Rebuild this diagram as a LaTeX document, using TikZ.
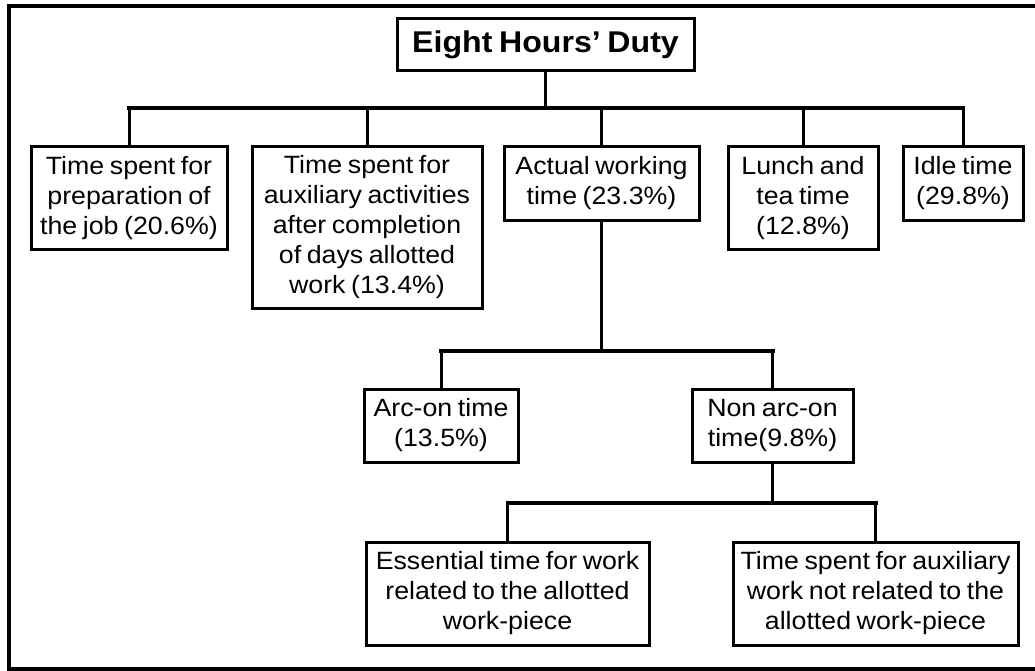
\documentclass[tikz,border=0pt]{standalone}
\usepackage{fontspec}
\setmainfont{Liberation Sans}[WordSpace=0.75,FakeStretch=1.07]
\begin{document}
\begin{tikzpicture}[x=1pt,y=-1pt,
  box/.style={draw=black,line width=3pt,fill=white,align=center,inner sep=0pt,
    font=\fontsize{25}{30}\selectfont,text=black},
  conn/.style={line width=3pt,line cap=rect},
  bus/.style={line width=4pt,line cap=rect}]
\useasboundingbox (0,0) rectangle (1035,671);
\draw[line width=3.5pt] (1040,6) -- (9,6) -- (9,669) -- (1040,669);
% nodes
\node[box,minimum width=297pt,minimum height=52pt,font=\fontsize{30}{34}\selectfont\bfseries] (title) at (545.5,45) {Eight Hours’ Duty};
\node[box,minimum width=196pt,minimum height=102pt] (b1) at (129,198) {Time spent for\\preparation of\\the job (20.6\%)};
\node[box,minimum width=230pt,minimum height=161pt] (b2) at (367,227.5) {Time spent for\\auxiliary activities\\after completion\\of days allotted\\work (13.4\%)};
\node[box,minimum width=195pt,minimum height=73pt] (b3) at (601.5,183.5) {Actual working\\time (23.3\%)};
\node[box,minimum width=150pt,minimum height=102pt] (b4) at (803,198) {Lunch and\\tea time\\(12.8\%)};
\node[box,minimum width=120pt,minimum height=73pt] (b5) at (963,183.5) {Idle time\\(29.8\%)};
\node[box,minimum width=154pt,minimum height=73pt] (arc) at (441,425.5) {Arc-on time\\(13.5\%)};
\node[box,minimum width=161pt,minimum height=73pt] (non) at (772.5,425.5) {Non arc-on\\time(9.8\%)};
\node[box,minimum width=283pt,minimum height=103pt] (ess) at (507.5,593.5) {Essential time for work\\related to the allotted\\work-piece};
\node[box,minimum width=285pt,minimum height=103pt] (aux) at (875.5,593.5) {Time spent for auxiliary\\work not related to the\\allotted work-piece};
% bus coordinates
\coordinate (y1) at (0,108);
\coordinate (y2) at (0,351);
\coordinate (y3) at (0,503);
% level 1
\draw[conn] (title.south) -- (title.south |- y1);
\draw[bus] (b1.north |- y1) -- (b5.north |- y1);
\foreach \n in {b1,b2,b3,b4,b5} \draw[conn] (\n.north |- y1) -- (\n.north);
% level 2
\draw[conn] (b3.south) -- (b3.south |- y2);
\draw[bus] (arc.north |- y2) -- (non.north |- y2);
\foreach \n in {arc,non} \draw[conn] (\n.north |- y2) -- (\n.north);
% level 3
\draw[conn] (non.south) -- (non.south |- y3);
\draw[bus] (ess.north |- y3) -- (aux.north |- y3);
\foreach \n in {ess,aux} \draw[conn] (\n.north |- y3) -- (\n.north);
\end{tikzpicture}
\end{document}
